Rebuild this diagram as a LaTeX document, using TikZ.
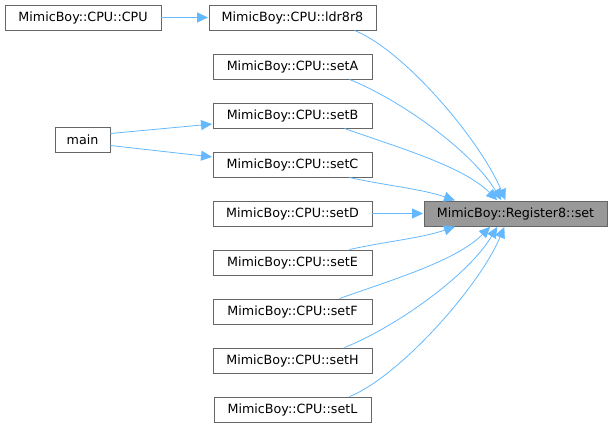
\documentclass[tikz,border=0pt]{standalone}
\usepackage{fontspec}
\setmainfont{DejaVu Sans}
\usetikzlibrary{arrows.meta}
\definecolor{edgeblue}{HTML}{63B8FF}
\definecolor{boxgray}{HTML}{666666}
\definecolor{hlgray}{HTML}{999999}
\tikzset{
  fnbox/.style={draw=boxgray, line width=0.9pt, fill=white, minimum height=25pt, inner sep=0pt, font=\fontsize{12.7}{14}\selectfont, anchor=center},
  calledge/.style={draw=edgeblue, line width=0.8pt, -{Triangle[length=11pt,width=10pt]}, shorten >=0.5pt},
}
\begin{document}
\begin{tikzpicture}[x=1pt,y=-1pt]
\useasboundingbox (0,0) rectangle (613,431);
\node[fnbox, fill=hlgray, minimum width=183pt] (set) at (515.5,213.5) {MimicBoy::Register8::set};
\node[fnbox, minimum width=156pt] (cpu) at (83,17.5) {MimicBoy::CPU::CPU};
\node[fnbox, minimum width=167pt] (ldr) at (292.5,17.5) {MimicBoy::CPU::ldr8r8};
\node[fnbox, minimum width=159pt] (seta) at (292.5,66.5) {MimicBoy::CPU::setA};
\node[fnbox, minimum width=159pt] (setb) at (292.5,115.5) {MimicBoy::CPU::setB};
\node[fnbox, minimum width=159pt] (setc) at (292.5,164.5) {MimicBoy::CPU::setC};
\node[fnbox, minimum width=159pt] (setd) at (292.5,213.5) {MimicBoy::CPU::setD};
\node[fnbox, minimum width=159pt] (sete) at (292.5,262.5) {MimicBoy::CPU::setE};
\node[fnbox, minimum width=159pt] (setf) at (292.5,311.5) {MimicBoy::CPU::setF};
\node[fnbox, minimum width=159pt] (seth) at (292.5,360.5) {MimicBoy::CPU::setH};
\node[fnbox, minimum width=157pt] (setl) at (292.5,409.5) {MimicBoy::CPU::setL};
\node[fnbox, minimum width=55pt] (main) at (82.5,139.5) {main};

\draw[calledge] (cpu.east) -- (ldr.west);
\draw[calledge] ([yshift=6pt]main.east) -- ([yshift=-8.5pt]setb.west);
\draw[calledge] ([yshift=-6pt]main.east) -- ([yshift=7.5pt]setc.west);

\draw[calledge] ([xshift=62pt]ldr.south) .. controls +(50,20) and +(-25,-60) .. ([xshift=-10pt]set.north);
\draw[calledge] ([xshift=57pt]seta.south) .. controls +(50,20) and +(-30,-50) .. ([xshift=-14pt]set.north);
\draw[calledge] ([xshift=52pt]setb.south) .. controls +(50,18) and +(-35,-35) .. ([xshift=-18pt]set.north);
\draw[calledge] ([xshift=57pt]setc.south) .. controls +(35,8) and +(-35,-12) .. ([xshift=-60pt]set.north);
\draw[calledge] (setd.east) -- (set.west);
\draw[calledge] ([xshift=57pt]sete.north) .. controls +(35,-8) and +(-35,12) .. ([xshift=-60pt]set.south);
\draw[calledge] ([xshift=47pt]setf.north) .. controls +(50,-18) and +(-35,35) .. ([xshift=-25pt]set.south);
\draw[calledge] ([xshift=52pt]seth.north) .. controls +(50,-20) and +(-30,50) .. ([xshift=-18pt]set.south);
\draw[calledge] ([xshift=57pt]setl.north) .. controls +(50,-20) and +(-25,60) .. ([xshift=-11pt]set.south);
\end{tikzpicture}
\end{document}
